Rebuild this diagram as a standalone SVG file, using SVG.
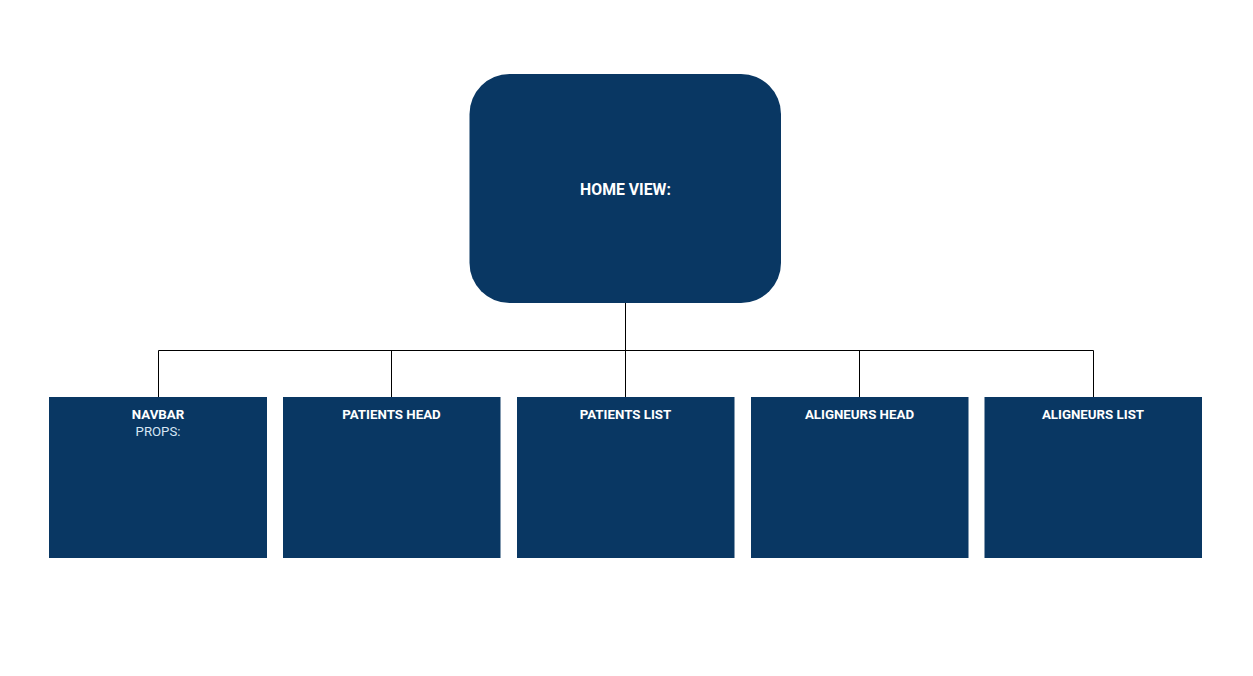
<svg xmlns="http://www.w3.org/2000/svg" width="1253" height="676" viewBox="0 0 1253 676">
<style>
.box{fill:#093763;}
.lbl{font-family:Roboto,"Liberation Sans",sans-serif;font-size:13.3px;font-weight:bold;fill:#ffffff;text-anchor:middle;}
.title{font-family:Roboto,"Liberation Sans",sans-serif;font-size:15.8px;font-weight:bold;fill:#ffffff;text-anchor:middle;}
.sub{font-family:Roboto,"Liberation Sans",sans-serif;font-size:13.2px;fill:#d6e6f5;text-anchor:middle;}
.con{stroke:#000000;stroke-width:1;fill:none;}
</style>
<rect width="1253" height="676" fill="#ffffff"/>
<g id="connectors">
<path class="con" d="M625.5 303V350.5M158.5 350.5H1093.5M158.5 350.5V397M391.5 350.5V397M625.5 350.5V397M859.5 350.5V397M1093.5 350.5V397"/>
</g>
<g id="home">
<rect class="box" x="469.5" y="74" width="311.5" height="229" rx="40" ry="40"/>
<text class="title" x="625.5" y="195">HOME VIEW:</text>
</g>
<g id="navbar">
<rect class="box" x="49" y="397" width="218" height="161"/>
<text class="lbl" x="158" y="418.5">NAVBAR</text>
<text class="sub" x="158" y="435.5">PROPS:</text>
</g>
<g id="patients-head">
<rect class="box" x="283" y="397" width="217.5" height="161"/>
<text class="lbl" x="391.5" y="418.5">PATIENTS HEAD</text>
</g>
<g id="patients-list">
<rect class="box" x="517" y="397" width="217.5" height="161"/>
<text class="lbl" x="625.5" y="418.5">PATIENTS LIST</text>
</g>
<g id="aligneurs-head">
<rect class="box" x="751" y="397" width="217.5" height="161"/>
<text class="lbl" x="859.5" y="418.5">ALIGNEURS HEAD</text>
</g>
<g id="aligneurs-list">
<rect class="box" x="984.5" y="397" width="217.5" height="161"/>
<text class="lbl" x="1093" y="418.5">ALIGNEURS LIST</text>
</g>
</svg>
